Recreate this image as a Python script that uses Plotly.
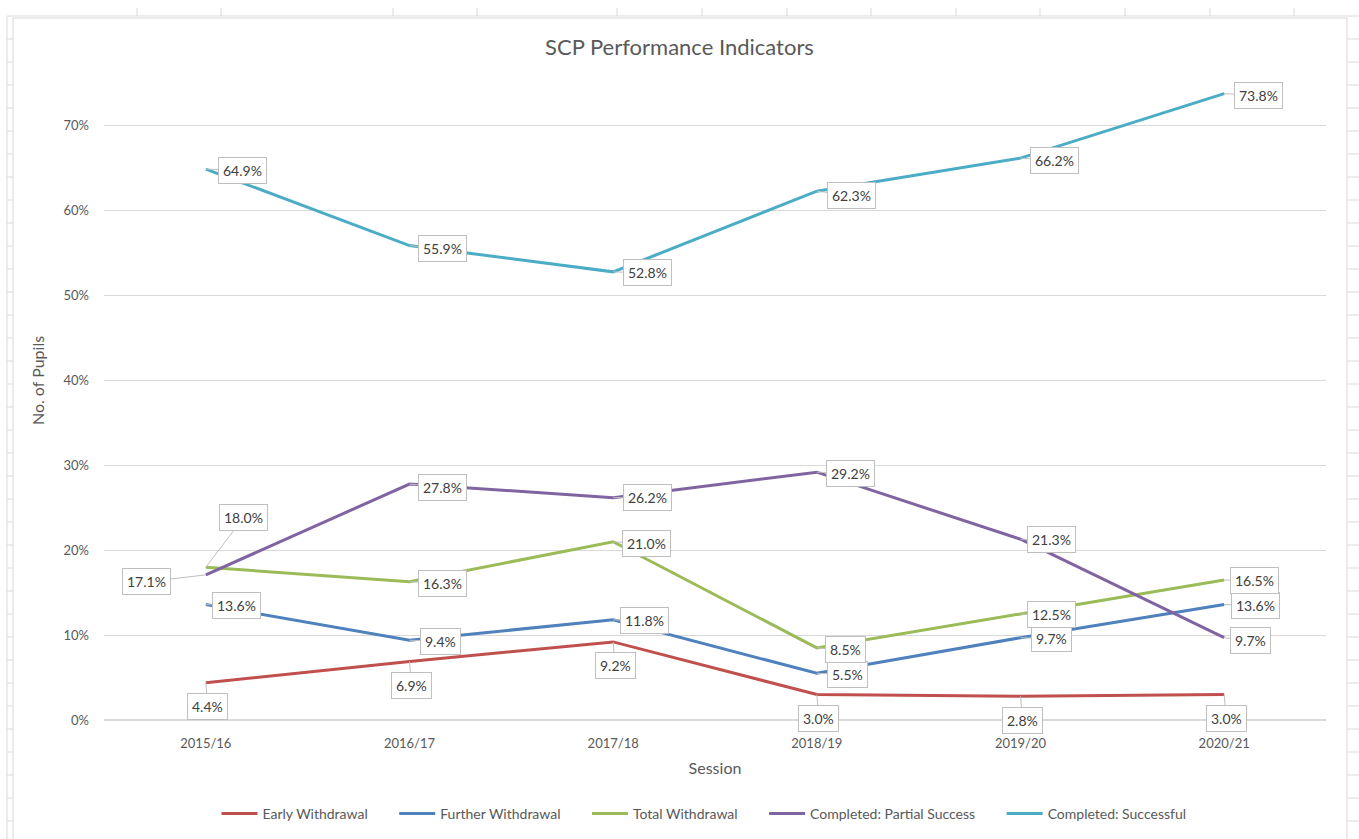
import plotly.graph_objects as go

# data
sessions = ["2015/16", "2016/17", "2017/18", "2018/19", "2019/20", "2020/21"]
early_withdrawal = [0.044, 0.069, 0.092, 0.030, 0.028, 0.030]
further_withdrawal = [0.136, 0.094, 0.118, 0.055, 0.097, 0.136]
total_withdrawal = [0.180, 0.163, 0.210, 0.085, 0.125, 0.165]
partial_success = [0.171, 0.278, 0.262, 0.292, 0.213, 0.097]
successful = [0.649, 0.559, 0.528, 0.623, 0.662, 0.738]
y_ticks = [0, 0.1, 0.2, 0.3, 0.4, 0.5, 0.6, 0.7]

series = [
    ("Early Withdrawal", early_withdrawal, "#C0504D"),
    ("Further Withdrawal", further_withdrawal, "#4F81BD"),
    ("Total Withdrawal", total_withdrawal, "#9BBB59"),
    ("Completed: Partial Success", partial_success, "#8064A2"),
    ("Completed: Successful", successful, "#4BACC6"),
]

# callout offsets (pixels) for each label, per series
offsets = {
    "Early Withdrawal": [(2, 24)] * 6,
    "Further Withdrawal": [(31, 1)] * 6,
    "Total Withdrawal": [(38, -50), (33, 2), (33, 2), (29, 2), (31, 1), (30, 1)],
    "Completed: Partial Success": [(-59, 7), (33, 3), (34, 0), (34, 1), (31, 0), (26, 3)],
    "Completed: Successful": [(37, 1), (33, 3), (34, 1), (35, 4), (34, 2), (34, 2)],
}

W, H = 1359, 839
L, R, T, B = 104, 33, 41, 119
grey = "#595959"
font = "Lato, 'Open Sans', sans-serif"
pad = "\u00a0" * 6  # extra gap after each legend entry

fig = go.Figure()
annotations = []
for name, vals, col in series:
    fig.add_trace(go.Scatter(x=sessions, y=vals, mode="lines", name=name + pad,
                             line=dict(color=col, width=3)))
    for i, v in enumerate(vals):
        ax, ay = offsets[name][i]
        annotations.append(dict(
            x=sessions[i], y=v, text=f"{v*100:.1f}%", showarrow=True,
            arrowhead=0, arrowwidth=1, arrowcolor="#BFBFBF", ax=ax, ay=ay,
            bordercolor="#BFBFBF", borderwidth=1, borderpad=4, bgcolor="white",
            font=dict(family=font, size=14, color="#404040")))

# spreadsheet cell lines around the chart object (pixel -> paper)
shapes = []
line_c = "#D9D9D9"
def seg(xa, ya, xb, yb):
    shapes.append(dict(type="line", xref="paper", yref="paper",
                       x0=(xa - L) / (W - L - R), y0=1 - (ya - T) / (H - T - B),
                       x1=(xb - L) / (W - L - R), y1=1 - (yb - T) / (H - T - B),
                       line=dict(color=line_c, width=1)))
for x in [137, 221, 393, 477, 617, 702, 787, 871, 956, 1040, 1125, 1210, 1294]:
    seg(x, 8, x, 16)
for y in range(39, H, 23):
    seg(7, y, 13, y)
    seg(1347, y, W, y)
seg(7, 16, W, 16)
seg(7, 16, 7, H)
seg(13, 18, 1347, 18)
seg(13, 18, 13, H)
seg(1347, 18, 1347, H)

fig.update_layout(
    width=W, height=H,
    margin=dict(l=L, r=R, t=T, b=B),
    paper_bgcolor="white", plot_bgcolor="white",
    font=dict(family=font, color=grey, size=13),
    title=dict(text="SCP Performance Indicators", x=0.5, xanchor="center",
               y=1 - 47 / H, yanchor="middle", font=dict(size=22, color=grey)),
    xaxis=dict(title=dict(text="Session", standoff=12), showgrid=False, showline=False,
               range=[-0.5, 5.5], ticks="", ticklabelstandoff=14, tickfont=dict(size=13)),
    yaxis=dict(title=dict(text="No. of Pupils", standoff=14), range=[0, 0.8],
               tickvals=y_ticks, tickformat=".0%", showgrid=True, gridcolor="#D9D9D9",
               zeroline=True, zerolinecolor="#D9D9D9", showline=False, ticks="",
               ticklabelstandoff=14, tickfont=dict(size=13)),
    legend=dict(orientation="h", x=0.5, xanchor="center", y=1 - 814 / H, yanchor="middle",
                yref="container", font=dict(size=14), itemwidth=36),
    annotations=annotations,
    shapes=shapes,
)

fig.write_html("out.html", config={"displayModeBar": False},
               post_script="document.body.style.margin='0';")
